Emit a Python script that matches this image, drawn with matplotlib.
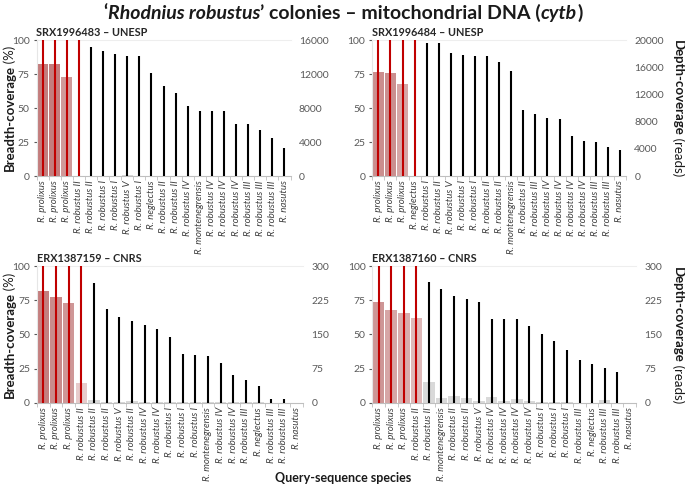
import matplotlib
matplotlib.use("Agg")
import matplotlib.pyplot as plt
import numpy as np

plt.rcParams["font.family"] = ["Lato", "DejaVu Sans"]

# ---- data ----
title_p1 = "SRX1996483 – UNESP"
species_p1 = ["R. prolixus", "R. prolixus", "R. prolixus", "R. robustus II", "R. robustus II",
              "R. robustus I", "R. robustus I", "R. robustus V", "R. robustus I", "R. neglectus",
              "R. robustus II", "R. robustus II", "R. robustus IV", "R. montenegrensis",
              "R. robustus IV", "R. robustus IV", "R. robustus IV", "R. robustus III",
              "R. robustus III", "R. robustus III", "R. nasutus"]
breadth_p1 = [82.5, 82.5, 72.5, 0.3, 0.3, 0.3, 0.3, 0.8, 0.3, 0.3, 0.3, 0.3, 0.3, 0.3,
              0.3, 0.3, 0.3, 0.3, 0.3, 0.3, 0.3]
depth_p1 = [40000, 38000, 35000, 30000, 15200, 14720, 14400, 14160, 14080, 12080, 10560,
            9760, 8240, 7680, 7600, 7600, 6160, 6160, 5440, 4480, 3280]

title_p2 = "SRX1996484 – UNESP"
species_p2 = ["R. prolixus", "R. prolixus", "R. prolixus", "R. neglectus", "R. robustus I",
              "R. robustus II", "R. robustus V", "R. robustus I", "R. robustus I",
              "R. robustus II", "R. robustus II", "R. montenegrensis", "R. robustus II",
              "R. robustus III", "R. robustus IV", "R. robustus IV", "R. robustus IV",
              "R. robustus IV", "R. robustus III", "R. robustus III", "R. nasutus"]
breadth_p2 = [76.5, 76.0, 67.5, 0.3, 0.3, 0.3, 0.3, 0.3, 0.3, 0.3, 0.3, 0.3, 0.3, 0.3,
              0.3, 0.3, 0.3, 0.3, 0.3, 0.3, 0.3]
depth_p2 = [50000, 48000, 45000, 40000, 19600, 19520, 18120, 17740, 17700, 17600, 16760,
            15430, 9640, 9050, 8550, 8400, 5850, 5160, 4970, 4330, 3830]

title_p3 = "ERX1387159 – CNRS"
species_p3 = ["R. prolixus", "R. prolixus", "R. prolixus", "R. robustus II", "R. robustus II",
              "R. robustus II", "R. robustus V", "R. robustus II", "R. robustus IV",
              "R. robustus IV", "R. robustus I", "R. robustus I", "R. robustus I",
              "R. montenegrensis", "R. robustus IV", "R. robustus IV", "R. robustus III",
              "R. neglectus", "R. robustus III", "R. robustus III", "R. nasutus"]
breadth_p3 = [81.7, 77.6, 73.2, 14.6, 2.0, 1.0, 1.0, 1.5, 0.5, 0.5, 0.5, 0.5, 0.5, 0.5,
              0.5, 0.5, 0.5, 0.5, 0.3, 0.3, 0.3]
depth_p3 = [900, 850, 800, 700, 262, 205.6, 188.8, 179.3, 169.8, 161.7, 144.9, 106.8,
            104.6, 102.4, 87.1, 60.7, 50.5, 37.3, 8.8, 8.8, 0]

title_p4 = "ERX1387160 – CNRS"
species_p4 = ["R. prolixus", "R. prolixus", "R. prolixus", "R. robustus II", "R. robustus II",
              "R. montenegrensis", "R. robustus II", "R. robustus II", "R. robustus V",
              "R. robustus IV", "R. robustus IV", "R. robustus IV", "R. robustus IV",
              "R. robustus I", "R. robustus I", "R. robustus I", "R. robustus III",
              "R. neglectus", "R. robustus III", "R. robustus III", "R. nasutus"]
breadth_p4 = [73.7, 68.0, 65.6, 62.0, 15.6, 3.5, 4.9, 3.7, 1.2, 4.4, 1.5, 2.7, 1.2, 0.7,
              0.5, 0.7, 0.3, 0.3, 2.0, 0.3, 0.3]
depth_p4 = [900, 850, 800, 700, 266, 249.5, 233.4, 227.6, 221.7, 183.7, 183, 183, 168.3,
            150, 135.4, 116.3, 93.7, 84.9, 76.8, 68.8, 0]

depth_max = [16000, 20000, 300, 300]
depth_ticks = [[0, 4000, 8000, 12000, 16000], [0, 4000, 8000, 12000, 16000, 20000],
               [0, 75, 150, 225, 300], [0, 75, 150, 225, 300]]
n_top = 4  # hits drawn in red

GREY = "#595959"
fig = plt.figure(figsize=(6.85, 4.86), dpi=100)

# axes rectangles in pixels (left, right, top, bottom)
boxes = [(36.5, 290.5, 40, 176), (372.3, 626, 40, 176),
         (37, 303, 266, 403), (372.4, 636, 266, 403)]
W, H = 685, 486

panels = [(title_p1, species_p1, breadth_p1, depth_p1),
          (title_p2, species_p2, breadth_p2, depth_p2),
          (title_p3, species_p3, breadth_p3, depth_p3),
          (title_p4, species_p4, breadth_p4, depth_p4)]

for k, (ttl, sp, br, dp) in enumerate(panels):
    l, r, t, b = boxes[k]
    ax = fig.add_axes([l / W, 1 - b / H, (r - l) / W, (b - t) / H])
    x = np.arange(len(sp))
    cols = []
    for i, v in enumerate(br):
        if i < n_top:
            a = float(np.clip(0.3 + (v - 55) / 30 * 0.5, 0.3, 0.8))
            cols.append((0.69, 0.33, 0.33, a))
        else:
            cols.append("#d9d9d9")
    ax.bar(x, br, width=0.92, color=cols, zorder=1)
    ax.set_ylim(0, 100)
    ax.set_xlim(-0.5, len(sp) - 0.5)
    ax.set_yticks([0, 25, 50, 75, 100])
    ax.tick_params(axis="y", labelsize=7.5, colors=GREY, length=2, pad=3)
    ax.set_xticks(x)
    ax.set_xticklabels(sp, rotation=90, fontsize=7, style="italic", color="#404040")
    ax.set_xticks(np.arange(len(sp) + 1) - 0.5, minor=True)
    ax.tick_params(axis="x", which="major", length=0, pad=3)
    ax.tick_params(axis="x", which="minor", length=3, color="#bfbfbf")
    ax.spines["right"].set_visible(False)
    ax.spines["left"].set_color("#e6e6e6")
    ax.spines["top"].set_color("#eeeeee")
    ax.spines["bottom"].set_color("#bfbfbf")

    ax2 = ax.twinx()
    lc = ["#c00000" if i < n_top else "black" for i in range(len(dp))]
    ax2.vlines(x, 0, dp, colors=lc, linewidth=1.5, zorder=3)
    ax2.set_ylim(0, depth_max[k])
    ax2.set_yticks(depth_ticks[k])
    ax2.tick_params(axis="y", labelsize=7.5, colors=GREY, length=0, pad=6)
    for s in ["right", "left", "top", "bottom"]:
        ax2.spines[s].set_visible(False)

    ax.text(0, 1.015, ttl, transform=ax.transAxes, fontsize=7.8, fontweight="bold",
            ha="left", va="bottom", color="#262626")

fig.canvas.draw()
rend = fig.canvas.get_renderer()


def rich(x, y, parts, size, rotation=0):
    """draw text made of several styled pieces, centred on (x, y) in pixels from top-left"""
    objs = [fig.text(0, 0, s, fontsize=size, rotation=rotation, rotation_mode="anchor",
                     ha="left", va="baseline", color="#1a1a1a", **kw) for s, kw in parts]
    lens = []
    for o in objs:
        bb = o.get_window_extent(rend)
        lens.append(bb.width if rotation == 0 else bb.height)
    total = sum(lens)
    pos = -total / 2
    for o, ln in zip(objs, lens):
        if rotation == 0:
            o.set_position(((x + pos) / W, 1 - y / H))
        elif rotation == 90:
            o.set_position((x / W, 1 - (y - pos) / H))
        else:
            o.set_position((x / W, 1 - (y + pos) / H))
        pos += ln


B = dict(fontweight="bold")
BI = dict(fontweight="bold", style="italic")
N = dict()
rich(343, 19, [("‘", B), ("Rhodnius robustus", BI), ("’ colonies – mitochondrial DNA (", B),
               ("cytb", BI), (")", B)], 14)
for yc in (108, 335):
    rich(14, yc, [("Breadth-coverage", B), ("\u2009(%)", N)], 9.5, rotation=90)
    rich(674, yc, [("Depth-coverage", B), ("\u2009(reads)", N)], 9.5, rotation=270)
rich(343, 482, [("Query-sequence species", B)], 9)

fig.savefig("out.png", dpi=100)
